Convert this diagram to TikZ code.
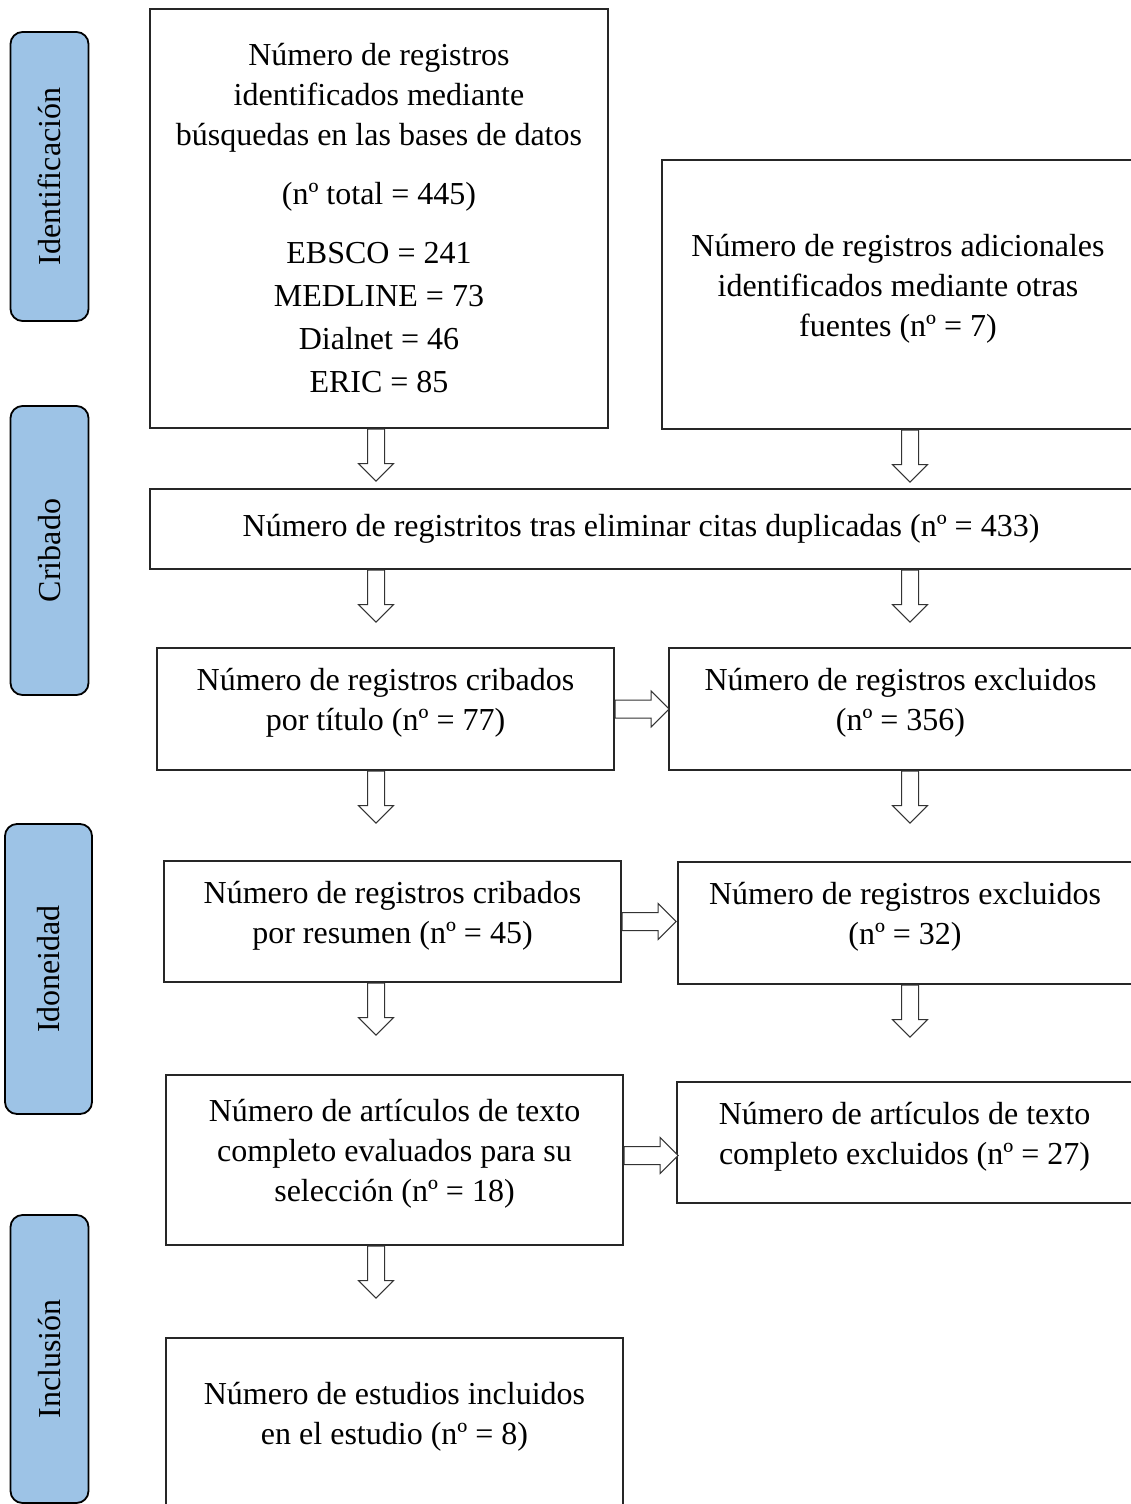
\documentclass[tikz,border=0pt]{standalone}
\usepackage{fontspec}
\setmainfont{Liberation Serif}
\usetikzlibrary{shapes.arrows}
\definecolor{stageblue}{RGB}{157,195,230}
\tikzset{
  box/.style={
    draw=black!85,
    line width=1.2pt,
    align=center,
    inner sep=0
  },
  lift/.style={text depth=19pt},
  stage/.style={
    draw=black,
    line width=1.8pt,
    fill=stageblue,
    rounded corners=12pt,
    rotate=90,
    minimum height=78,
    inner sep=0
  }
}
\tikzset{
  downarr/.style={
    single arrow,
    draw=black!80,
    line width=1pt,
    fill=white,
    shape border rotate=270,
    single arrow head extend=9,
    minimum height=52,
    inner sep=8
  }
}
\tikzset{
  rightarr/.style={
    single arrow,
    draw=black!80,
    line width=1pt,
    fill=white,
    single arrow head extend=9,
    minimum height=54,
    inner xsep=0,
    inner ysep=8.5
  }
}

\begin{document}
\begin{tikzpicture}[x=1pt,y=-1pt,font=\fontsize{32}{40}\selectfont]

\useasboundingbox (0,0) rectangle (1130,1504);

\coordinate (colL) at (376,0);
\coordinate (colR) at (910,0);

% fases
\node[stage, minimum width=289] (fIdent) at (49.5,176.5) {Identificación};
\node[stage, minimum width=289] (fCrib) at (49.5,550.5) {Cribado};
\node[stage, minimum width=290, minimum height=87] (fIdon) at (48.5,969) {Idoneidad};
\node[stage, minimum width=288] (fIncl) at (49.5,1359) {Inclusión};

% cajas
\node[box, minimum width=458, minimum height=419] (bases) at (379,218.5) {Número de registros\\ identificados mediante\\ búsquedas en las bases de datos\\[19pt] (nº total = 445)\\[19pt] EBSCO = 241\\[3pt] MEDLINE = 73\\[3pt] Dialnet = 46\\[3pt] ERIC = 85};
\node[box, lift, minimum width=472, minimum height=269] (otras) at (898,294.5) {Número de registros adicionales\\ identificados mediante otras\\ fuentes (nº = 7)};
\node[box, minimum width=982, minimum height=80] (dupl) at (641,529) {Número de registritos tras eliminar citas duplicadas (nº = 433)};
\node[box, lift, minimum width=457, minimum height=122] (titulo) at (385.5,709) {Número de registros cribados\\ por título (nº = 77)};
\node[box, lift, minimum width=463, minimum height=122] (exclT) at (900.5,709) {Número de registros excluidos\\ (nº = 356)};
\node[box, lift, minimum width=457, minimum height=121] (resumen) at (392.5,921.5) {Número de registros cribados\\ por resumen (nº = 45)};
\node[box, lift, minimum width=454, minimum height=122] (exclR) at (905,923) {Número de registros excluidos\\ (nº = 32)};
\node[box, lift, minimum width=457, minimum height=170] (texto) at (394.5,1160) {Número de artículos de texto\\ completo evaluados para su\\ selección (nº = 18)};
\node[box, lift, minimum width=455, minimum height=121] (exclC) at (904.5,1142.5) {Número de artículos de texto\\ completo excluidos (nº = 27)};
\node[box, lift, minimum width=457, minimum height=170] (incl) at (394.5,1423) {Número de estudios incluidos\\ en el estudio (nº = 8)};

% flechas
\node[downarr, anchor=tail] (a1) at (colL |- bases.south) {};
\node[downarr, anchor=tail] (a2) at (colR |- otras.south) {};
\node[downarr, anchor=tail] (a3) at (colL |- dupl.south) {};
\node[downarr, anchor=tail] (a4) at (colR |- dupl.south) {};
\node[downarr, anchor=tail] (a5) at (colL |- titulo.south) {};
\node[downarr, anchor=tail] (a6) at (colR |- exclT.south) {};
\node[downarr, anchor=tail] (a7) at (colL |- resumen.south) {};
\node[downarr, anchor=tail] (a8) at (colR |- exclR.south) {};
\node[downarr, anchor=tail] (a9) at (colL |- texto.south) {};

\node[rightarr, anchor=tail] (r1) at (titulo.east) {};
\node[rightarr, anchor=tail] (r2) at (resumen.east) {};
\node[rightarr, anchor=tail] (r3) at ([yshift=4.5]texto.east) {};

\end{tikzpicture}
\end{document}
